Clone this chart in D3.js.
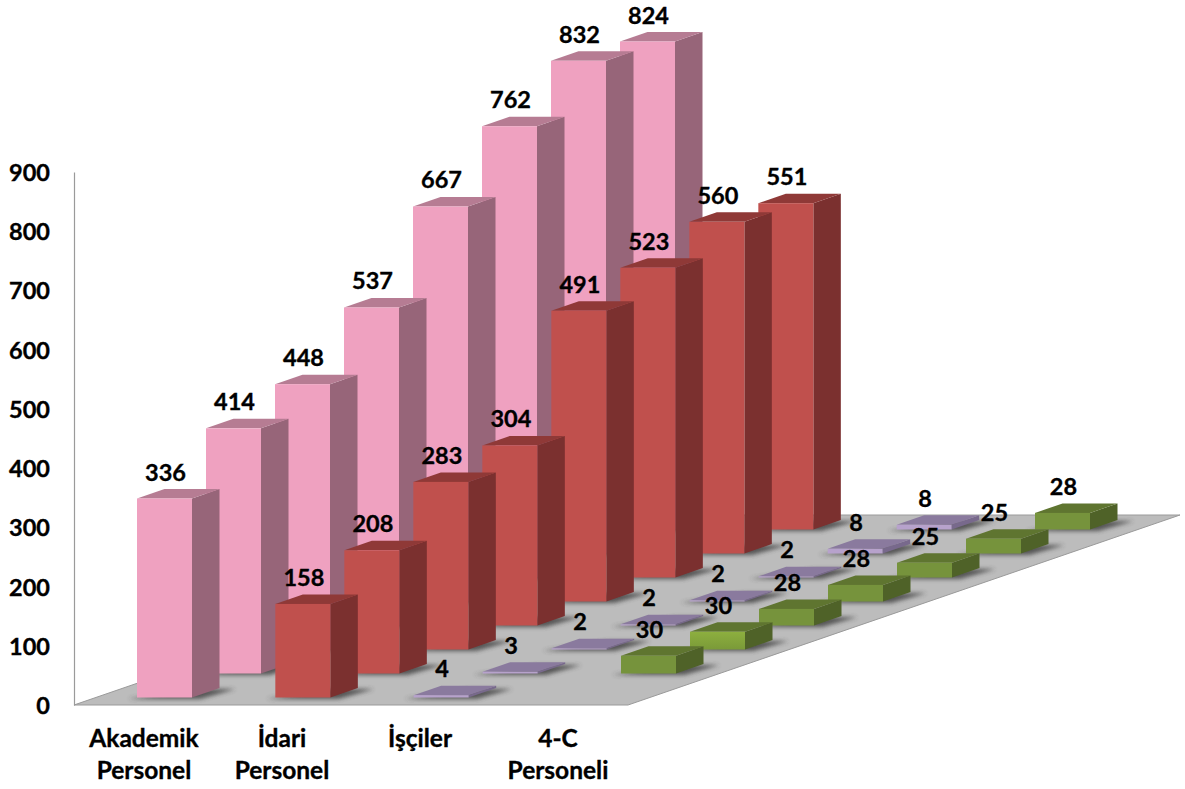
<!DOCTYPE html>
<html><head><meta charset="utf-8">
<style>html,body{margin:0;padding:0;background:#fff}svg{display:block}
text{font-family:Lato,"Noto Sans",sans-serif;font-weight:700;fill:#000;stroke:#000;stroke-width:.35px;font-size:23.5px}
text.cat{font-size:24.5px}</style>
<script src="https://cdn.jsdelivr.net/npm/d3@7"></script></head><body>
<svg id="c" width="1185" height="789"></svg>
<script>
const categories = [["Akademik","Personel"],["İdari","Personel"],["İşçiler"],["4-C","Personeli"]];
const akademik = [336,414,448,537,667,762,832,824];
const idari = [158,208,283,304,491,523,560,551];
const isciler = [4,3,2,2,2,2,8,8];
const personel4c = [null,30,30,28,28,25,25,28];
const seriesValues = [akademik,idari,isciler,personel4c];
const frontColors = ["#EFA1C0","#C0504D","#B7A2CC","#76933C"];
const sideColors = ["#976579","#7B302F","#78698C","#4F6228"];
const topColors = ["#B67C93","#8F3937","#8A7A9E","#5F7530"];
const yTicks = [0,100,200,300,400,500,600,700,800,900];

const svg = d3.select("#c");
const defs = svg.append("defs");
defs.append("filter").attr("id","blur").attr("x","-30%").attr("y","-100%").attr("width","160%").attr("height","300%")
  .append("feGaussianBlur").attr("stdDeviation",2);
const hi = defs.append("linearGradient").attr("id","hi").attr("x1",0).attr("y1",0).attr("x2",0).attr("y2",1);
hi.append("stop").attr("offset","0").attr("stop-color","#8DAF3F");
hi.append("stop").attr("offset","1").attr("stop-color","#7A9A38");

const y = d3.scaleLinear().domain([0,900]).range([705,172]);
const catX = d3.scaleLinear().domain([0,3]).range([137,552]);
const catLabelX = d3.scaleLinear().domain([0,3]).range([144,558]);
const depthDx = d3.scaleLinear().domain([0,7]).range([0,483]);
const depthDy = d3.scaleLinear().domain([0,7]).range([-7.5,-175.5]);
const barW = 55, sideDx = 27.5, sideDy = -9.5;
const h = v => y(0) - y(v);
const pts = a => a.map(p => p.join(",")).join(" ");

// floor
const floorDepth = {x:552,y:-190};
const x0 = 74, x1 = 628;
svg.append("polygon").attr("fill","#BCBCBC").attr("stroke","#9a9a9a").attr("stroke-width",1)
  .attr("points",pts([[x0,y(0)],[x1,y(0)],[x1+floorDepth.x,y(0)+floorDepth.y],[x0+floorDepth.x,y(0)+floorDepth.y]]));

// value axis
const axis = d3.axisLeft(y).tickValues(yTicks).tickSize(0).tickPadding(24);
const ax = svg.append("g").attr("transform","translate(74,0)").call(axis);
ax.select(".domain").attr("stroke","#9a9a9a").attr("stroke-width",1.2);
ax.attr("font-size",null).attr("font-family",null);
ax.selectAll("text").attr("dy","0.36em");

// bars, far to near
const bars = [];
seriesValues.forEach((vals,s)=>vals.forEach((v,d)=>{ if(v!==null) bars.push({s,d,v}); }));
bars.sort((a,b)=>b.d-a.d || a.s-b.s);
const g = svg.append("g");
bars.forEach(b=>{
  const x = catX(b.s)+depthDx(b.d), by = y(0)+depthDy(b.d), t = by-h(b.v);
  g.append("polygon").attr("filter","url(#blur)").attr("fill","#3c3c3c").attr("opacity",.8)
    .attr("points",pts([[x-9,by+1.5],[x+barW+8,by+1.5],[x+barW+sideDx+16,by+sideDy+1],[x+barW,by+sideDy+1]]));
  g.append("polygon").attr("fill",sideColors[b.s])
    .attr("points",pts([[x+barW,by],[x+barW+sideDx,by+sideDy],[x+barW+sideDx,t+sideDy],[x+barW,t]]));
  g.append("polygon").attr("fill",topColors[b.s])
    .attr("points",pts([[x,t],[x+sideDx,t+sideDy],[x+barW+sideDx,t+sideDy],[x+barW,t]]));
  g.append("rect").attr("x",x).attr("y",t).attr("width",barW).attr("height",h(b.v))
    .attr("fill",(b.s===3&&b.d===2)?"url(#hi)":frontColors[b.s]);
});

// value labels
svg.append("g").selectAll("text").data(bars).join("text")
  .attr("text-anchor","middle")
  .attr("x",b=>catX(b.s)+depthDx(b.d)+barW/2+1)
  .attr("y",b=>y(0)+depthDy(b.d)-h(b.v)+sideDy-8.5)
  .text(b=>b.v);

// category labels
categories.forEach((lines,i)=>{
  const t = svg.append("text").attr("class","cat").attr("text-anchor","middle");
  lines.forEach((l,j)=>t.append("tspan").attr("x",catLabelX(i)).attr("y",747+j*32).text(l));
});
</script></body></html>
